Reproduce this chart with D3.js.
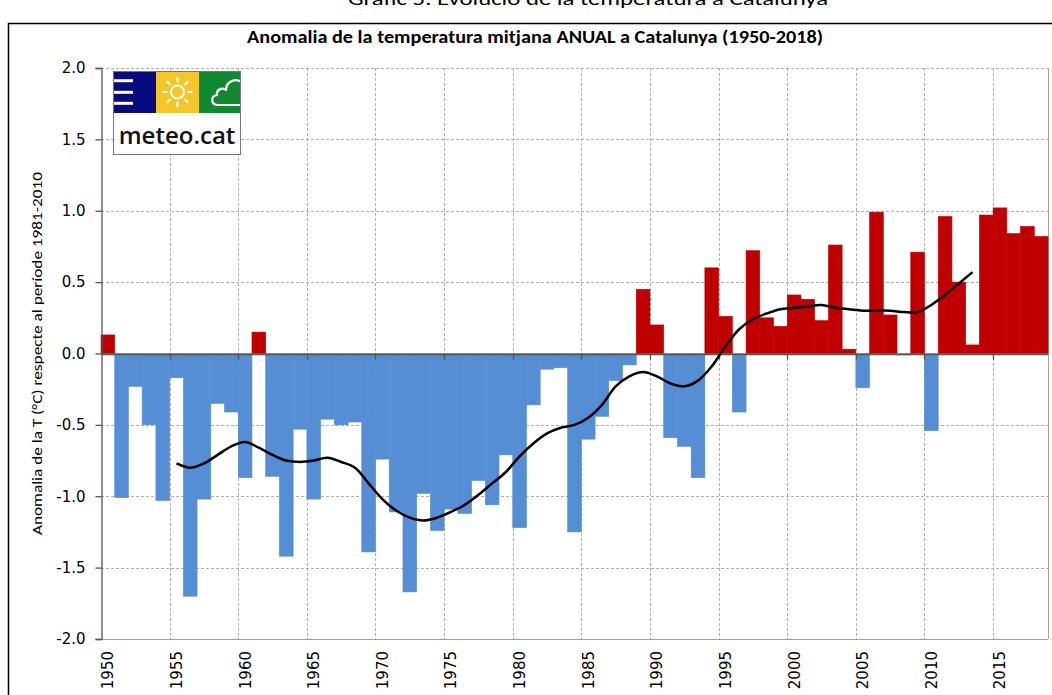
<!DOCTYPE html>
<html>
<head>
<meta charset="utf-8">
<script src="https://cdn.jsdelivr.net/npm/d3@7"></script>
<style>
  html, body { margin: 0; padding: 0; background: #fff; overflow: hidden; }
  svg { display: block; }
</style>
</head>
<body>
<svg id="chart" width="1052" height="695"></svg>
<script>
// ---------- DATA ----------
const years = d3.range(1950, 2019);
const anomalies = [
  0.13, -1.01, -0.23, -0.50, -1.03, -0.17, -1.70, -1.02, -0.35, -0.41,
  -0.87, 0.15, -0.86, -1.42, -0.53, -1.02, -0.46, -0.50, -0.48, -1.39,
  -0.74, -1.11, -1.67, -0.98, -1.24, -1.09, -1.12, -0.89, -1.06, -0.71,
  -1.22, -0.36, -0.11, -0.10, -1.25, -0.60, -0.44, -0.19, -0.08, 0.45,
  0.20, -0.59, -0.65, -0.87, 0.60, 0.26, -0.41, 0.72, 0.25, 0.19,
  0.41, 0.38, 0.23, 0.76, 0.03, -0.24, 0.99, 0.27, -0.01, 0.71,
  -0.54, 0.96, 0.50, 0.06, 0.97, 1.02, 0.84, 0.89, 0.82
];
const smoothYears = d3.range(1955, 2014);
const smoothValues = [
  -0.77, -0.80, -0.77, -0.71, -0.65, -0.62, -0.66, -0.71, -0.75, -0.76,
  -0.75, -0.73, -0.76, -0.80, -0.91, -1.02, -1.10, -1.15, -1.17, -1.15,
  -1.11, -1.06, -0.99, -0.91, -0.83, -0.72, -0.63, -0.56, -0.52, -0.50,
  -0.45, -0.36, -0.23, -0.16, -0.13, -0.16, -0.21, -0.23, -0.19, -0.09,
  0.05, 0.17, 0.24, 0.28, 0.31, 0.32, 0.33, 0.34, 0.32, 0.31,
  0.30, 0.30, 0.30, 0.29, 0.29, 0.34, 0.41, 0.49, 0.57
];
const yTicks = [-2.0, -1.5, -1.0, -0.5, 0.0, 0.5, 1.0, 1.5, 2.0];
const xTickYears = [1950, 1955, 1960, 1965, 1970, 1975, 1980, 1985, 1990, 1995, 2000, 2005, 2010, 2015];
const gridYears = [1955, 1960, 1965, 1970, 1975, 1980, 1985, 1990, 1995, 2000, 2005, 2010, 2015];
const pageTitle = "Gràfic 5. Evolució de la temperatura a Catalunya";
const chartTitle = "Anomalia de la temperatura mitjana ANUAL a Catalunya (1950-2018)";
const yAxisTitle = "Anomalia de la T (°C) respecte al període 1981-2010";

// ---------- LAYOUT ----------
const svg = d3.select("#chart");
const L = 101, R = 1048, T = 68, B = 639;
const x = d3.scaleBand().domain(years).range([L, R]).padding(0);
const y = d3.scaleLinear().domain([-2, 2]).range([B, T]);
const narrow = "Carlito, 'Liberation Sans Narrow', 'Open Sans', sans-serif";
const dv = "'DejaVu Sans', Verdana, sans-serif";

// page title (cut off at top, as in the original)
svg.append("text").attr("x", 588).attr("y", 5)
  .attr("text-anchor", "middle").attr("font-family", narrow)
  .attr("font-size", 18).attr("fill", "#000")
  .attr("textLength", 480).attr("lengthAdjust", "spacingAndGlyphs").text(pageTitle);

// outer frame
svg.append("rect").attr("x", 8.5).attr("y", 23.5).attr("width", 1100).attr("height", 700)
  .attr("fill", "none").attr("stroke", "#000").attr("stroke-width", 1.5);

// chart title
svg.append("text").attr("x", 535).attr("y", 43)
  .attr("text-anchor", "middle").attr("font-family", narrow).attr("font-weight", "bold")
  .attr("font-size", 18).attr("fill", "#000")
  .attr("textLength", 576).attr("lengthAdjust", "spacingAndGlyphs").text(chartTitle);

// horizontal gridlines
svg.append("g").selectAll("line").data(yTicks.filter(d => d !== 0 && d !== -2)).join("line")
  .attr("x1", L).attr("x2", R)
  .attr("y1", d => Math.round(y(d)) + 0.5).attr("y2", d => Math.round(y(d)) + 0.5)
  .attr("stroke", "#b0b0b0").attr("stroke-width", 1).attr("stroke-dasharray", "3,2");
svg.append("line").attr("x1", L).attr("x2", R)
  .attr("y1", Math.round(y(-2)) + 0.5).attr("y2", Math.round(y(-2)) + 0.5)
  .attr("stroke", "#a0a0a0").attr("stroke-width", 1);

// vertical gridlines
svg.append("g").selectAll("line").data(gridYears).join("line")
  .attr("x1", d => Math.round(x(d)) + 0.5).attr("x2", d => Math.round(x(d)) + 0.5)
  .attr("y1", T).attr("y2", B)
  .attr("stroke", "#b0b0b0").attr("stroke-width", 1).attr("stroke-dasharray", "3,2");
// right border
svg.append("line").attr("x1", R + 0.5).attr("x2", R + 0.5).attr("y1", T).attr("y2", B)
  .attr("stroke", "#a0a0a0").attr("stroke-width", 1);

// bars
svg.append("g").selectAll("rect").data(years).join("rect")
  .attr("x", d => x(d))
  .attr("width", x.bandwidth())
  .attr("y", (d, i) => y(Math.max(0, anomalies[i])))
  .attr("height", (d, i) => Math.abs(y(anomalies[i]) - y(0)))
  .attr("fill", (d, i) => anomalies[i] >= 0 ? "#c00000" : "#558ed5")
  .attr("stroke", (d, i) => anomalies[i] >= 0 ? "#c00000" : "#558ed5")
  .attr("stroke-width", 0.6);

// zero axis line with ticks
svg.append("line").attr("x1", L).attr("x2", R).attr("y1", Math.round(y(0)) + 0.5).attr("y2", Math.round(y(0)) + 0.5)
  .attr("stroke", "#555").attr("stroke-width", 1.3);
svg.append("g").selectAll("line").data(gridYears).join("line")
  .attr("x1", d => Math.round(x(d)) + 0.5).attr("x2", d => Math.round(x(d)) + 0.5)
  .attr("y1", y(0)).attr("y2", y(0) + 6)
  .attr("stroke", "#555").attr("stroke-width", 1.3);

// y axis
const yAxis = d3.axisLeft(y).tickValues(yTicks).tickFormat(d3.format(".1f")).tickSize(6).tickPadding(10);
const gy = svg.append("g").attr("transform", `translate(${L + 0.5},0)`).call(yAxis);
gy.select(".domain").attr("stroke", "#555").attr("stroke-width", 1.3);
gy.selectAll(".tick line").attr("stroke", "#555").attr("stroke-width", 1.3);
gy.selectAll(".tick text").attr("font-family", dv).attr("font-size", 15).attr("fill", "#000")
  .text(d => d3.format(".1f")(d).replace("−", "-"));

// x tick labels (rotated)
svg.append("g").selectAll("text").data(xTickYears).join("text")
  .attr("transform", d => `translate(${x(d) + x.bandwidth() / 2 + 5.5},651) rotate(-90)`)
  .attr("text-anchor", "end").attr("font-family", dv).attr("font-size", 15).attr("fill", "#000")
  .text(d => d);

// y axis title
svg.append("text").attr("transform", `translate(42,${(172 + 535) / 2}) rotate(-90)`)
  .attr("text-anchor", "middle").attr("font-family", narrow).attr("font-size", 15).attr("fill", "#000")
  .attr("textLength", 363).attr("lengthAdjust", "spacingAndGlyphs")
  .text(yAxisTitle);

// smoothed line
const line = d3.line()
  .x((d, i) => x(smoothYears[i]) + x.bandwidth() / 2)
  .y(d => y(d))
  .curve(d3.curveCatmullRom.alpha(0.5));
svg.append("path").datum(smoothValues).attr("d", line)
  .attr("fill", "none").attr("stroke", "#000").attr("stroke-width", 2.5).attr("stroke-linejoin", "round");

// logo
const lg = svg.append("g").attr("transform", "translate(113,71)");
lg.append("clipPath").attr("id", "logoclip").append("rect").attr("width", 128).attr("height", 42);
lg.append("rect").attr("x", 0).attr("y", 0).attr("width", 128).attr("height", 84).attr("fill", "#fff");
lg.append("rect").attr("x", 0).attr("y", 0).attr("width", 43).attr("height", 42).attr("fill", "#0a0a80");
lg.append("rect").attr("x", 43).attr("y", 0).attr("width", 43).attr("height", 42).attr("fill", "#f5c62a");
lg.append("rect").attr("x", 86).attr("y", 0).attr("width", 42).attr("height", 42).attr("fill", "#108a30");
[9.7, 21.3, 32.3].forEach(yy => lg.append("rect").attr("x", 1).attr("y", yy - 1.5).attr("width", 19).attr("height", 3).attr("fill", "#fff"));
const sun = lg.append("g").attr("transform", "translate(64.5,21)");
sun.append("circle").attr("r", 6.5).attr("fill", "none").attr("stroke", "#fff").attr("stroke-width", 2);
d3.range(8).forEach(k => {
  const a = k * Math.PI / 4;
  sun.append("line").attr("x1", Math.cos(a) * 10).attr("y1", Math.sin(a) * 10)
    .attr("x2", Math.cos(a) * 15).attr("y2", Math.sin(a) * 15)
    .attr("stroke", "#fff").attr("stroke-width", 2);
});
lg.append("path")
  .attr("clip-path", "url(#logoclip)")
  .attr("d", "M130,34 L105,34 C98,34 97,25 104,24 C103,18 110,16 113,19 C113,10 124,6 129,12 C133,14 133,20 130,22")
  .attr("fill", "none").attr("stroke", "#fff").attr("stroke-width", 2.2).attr("stroke-linejoin", "round");
lg.append("rect").attr("x", 0.5).attr("y", 0.5).attr("width", 127).attr("height", 83)
  .attr("fill", "none").attr("stroke", "#777").attr("stroke-width", 1);
lg.append("text").attr("x", 64).attr("y", 73).attr("text-anchor", "middle")
  .attr("font-family", "'Open Sans', 'Noto Sans', sans-serif").attr("font-weight", "600")
  .attr("font-size", 24).attr("fill", "#111").text("meteo.cat");
</script>
</body>
</html>
